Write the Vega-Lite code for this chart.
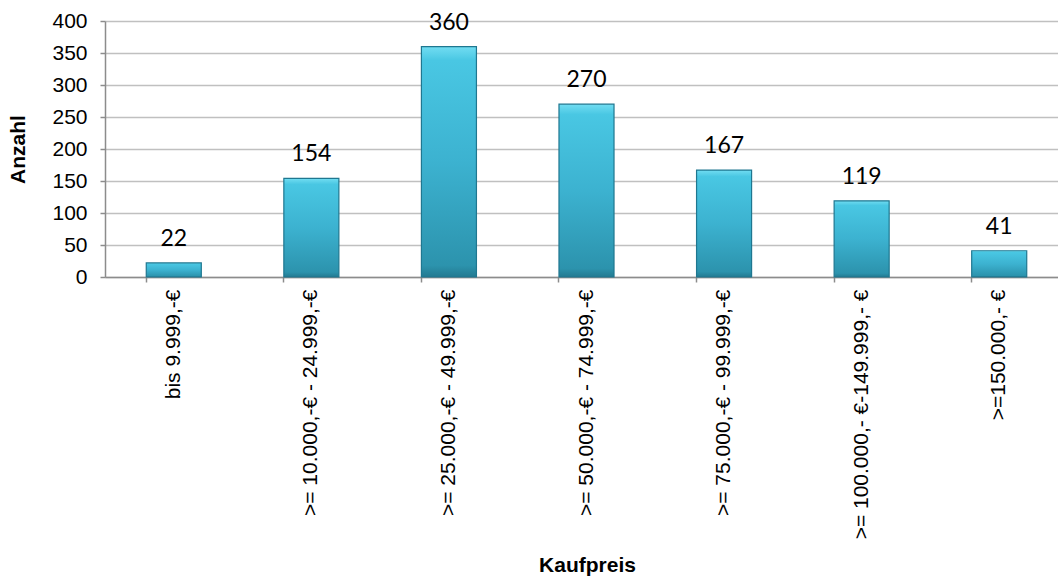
{
  "$schema": "https://vega.github.io/schema/vega-lite/v6.json",
  "width": 953,
  "height": 256,
  "autosize": "none",
  "padding": {"left": 105, "top": 21, "right": 0, "bottom": 300},
  "background": "white",
  "data": {
    "values": [
      {"Kaufpreis": "bis 9.999,-€", "Anzahl": 22},
      {"Kaufpreis": ">= 10.000,-€ - 24.999,-€", "Anzahl": 154},
      {"Kaufpreis": ">= 25.000,-€ - 49.999,-€", "Anzahl": 360},
      {"Kaufpreis": ">= 50.000,-€ - 74.999,-€", "Anzahl": 270},
      {"Kaufpreis": ">= 75.000,-€ - 99.999,-€", "Anzahl": 167},
      {"Kaufpreis": ">= 100.000,- €-149.999,- €", "Anzahl": 119},
      {"Kaufpreis": ">=150.000,- €", "Anzahl": 41}
    ]
  },
  "config": {
    "view": {"stroke": null},
    "font": "Liberation Sans",
    "axis": {
      "labelFont": "Liberation Sans",
      "titleFont": "Liberation Sans",
      "labelColor": "#000000",
      "titleColor": "#000000",
      "labelFontSize": 21,
      "titleFontSize": 21,
      "titleFontWeight": "bold",
      "domainColor": "#8c8c8c",
      "domainWidth": 1.5,
      "tickColor": "#8c8c8c",
      "tickWidth": 1.5
    }
  },
  "encoding": {
    "x": {
      "field": "Kaufpreis",
      "type": "nominal",
      "sort": null,
      "title": "Kaufpreis",
      "scale": {"range": [0, 963], "paddingInner": 0.6, "paddingOuter": 0.3},
      "axis": {
        "labelAngle": -90,
        "labelAlign": "right",
        "labelBaseline": "middle",
        "labelPadding": 7,
        "tickSize": 5,
        "bandPosition": 0,
        "titleX": 482,
        "titleY": 294,
        "titleAlign": "center",
        "titleBaseline": "alphabetic",
        "labelLimit": 400
      }
    },
    "y": {
      "field": "Anzahl",
      "type": "quantitative",
      "title": "Anzahl",
      "scale": {"domain": [0, 400], "nice": false},
      "axis": {
        "values": [0, 50, 100, 150, 200, 250, 300, 350, 400],
        "grid": true,
        "gridColor": "#c0c0c0",
        "gridWidth": 1.5,
        "tickSize": 5,
        "labelPadding": 13,
        "titleX": -87,
        "titleY": 128,
        "titleAngle": -90,
        "titleAlign": "center",
        "titleBaseline": "middle"
      }
    }
  },
  "layer": [
    {
      "mark": {
        "type": "bar",
        "stroke": "#1f7790",
        "strokeWidth": 1.2,
        "color": {
          "gradient": "linear",
          "x1": 0, "y1": 0, "x2": 0, "y2": 1,
          "stops": [
            {"offset": 0, "color": "#72ddf2"},
            {"offset": 0.06, "color": "#49c7e3"},
            {"offset": 0.5, "color": "#3cb2d0"},
            {"offset": 0.95, "color": "#2c93ad"},
            {"offset": 1, "color": "#237a91"}
          ]
        }
      }
    },
    {
      "mark": {
        "type": "text",
        "font": "Lato",
        "fontSize": 23,
        "color": "#000000",
        "baseline": "alphabetic",
        "dy": -17
      },
      "encoding": {"text": {"field": "Anzahl", "type": "quantitative"}}
    }
  ]
}
